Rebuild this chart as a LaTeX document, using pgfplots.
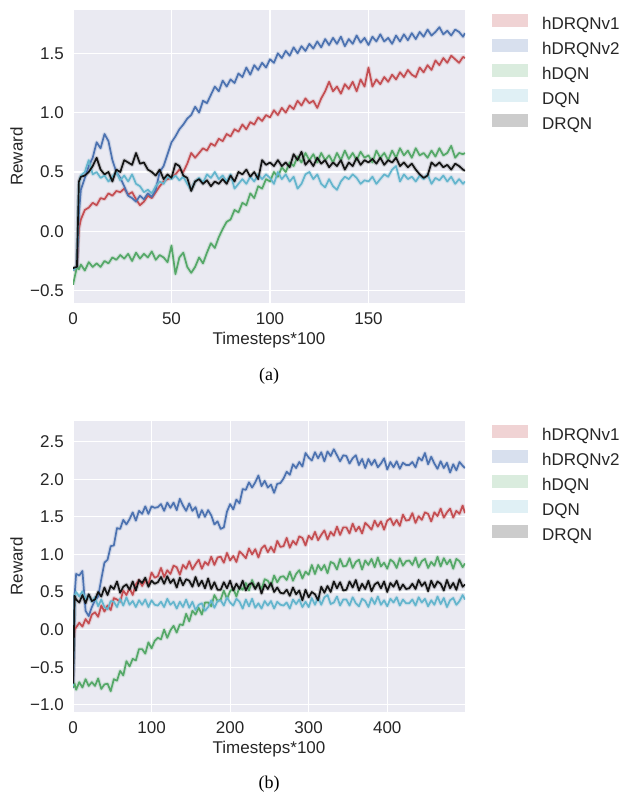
\documentclass[border=0pt]{standalone}
\usepackage{pgfplots}
\pgfplotsset{compat=1.18}
\usepackage{pgfplotstable}
\usepackage{fontspec}
\setmainfont{Liberation Sans}
\newfontfamily\capfont{Liberation Serif}
\definecolor{bgc}{HTML}{EAEAF2}
\definecolor{labc}{HTML}{262626}
\definecolor{cR}{HTML}{C44E52}
\definecolor{cB}{HTML}{4C72B0}
\definecolor{cG}{HTML}{55A868}
\definecolor{cC}{HTML}{64B5CD}
\definecolor{cK}{HTML}{141414}

\pgfplotstableread{
x a b c d e
0 -0.33 -0.32 -0.45 -0.33 -0.31
2 -0.30 -0.30 -0.30 -0.30 -0.30
3 0.02 0.15 -0.32 0.40 0.42
4 0.10 0.35 -0.28 0.47 0.46
6 0.18 0.45 -0.33 0.50 0.47
8 0.20 0.55 -0.26 0.60 0.50
10 0.24 0.62 -0.30 0.48 0.55
12 0.22 0.75 -0.27 0.50 0.62
14 0.28 0.70 -0.30 0.45 0.52
16 0.27 0.82 -0.25 0.47 0.48
18 0.32 0.76 -0.27 0.42 0.50
20 0.30 0.60 -0.22 0.46 0.42
22 0.34 0.50 -0.24 0.50 0.52
24 0.33 0.45 -0.20 0.43 0.50
26 0.36 0.38 -0.23 0.47 0.60
28 0.31 0.30 -0.19 0.42 0.58
30 0.33 0.28 -0.25 0.48 0.56
32 0.27 0.25 -0.18 0.40 0.66
34 0.22 0.30 -0.23 0.38 0.57
36 0.25 0.27 -0.19 0.33 0.58
38 0.30 0.32 -0.22 0.35 0.52
40 0.28 0.29 -0.17 0.32 0.50
42 0.33 0.35 -0.24 0.38 0.47
44 0.38 0.50 -0.20 0.42 0.52
46 0.42 0.55 -0.22 0.40 0.44
48 0.44 0.65 -0.26 0.46 0.48
50 0.45 0.75 -0.12 0.44 0.45
52 0.48 0.80 -0.36 0.47 0.57
54 0.52 0.86 -0.22 0.43 0.55
56 0.50 0.90 -0.18 0.46 0.47
58 0.57 0.95 -0.30 0.40 0.45
60 0.66 0.98 -0.35 0.35 0.34
62 0.62 1.05 -0.30 0.42 0.42
64 0.66 1.00 -0.22 0.45 0.44
66 0.70 1.10 -0.27 0.41 0.40
68 0.68 1.08 -0.18 0.48 0.43
70 0.74 1.15 -0.10 0.45 0.38
72 0.72 1.22 -0.14 0.50 0.42
74 0.78 1.18 -0.05 0.44 0.40
76 0.76 1.27 0.02 0.47 0.44
78 0.82 1.22 0.08 0.42 0.40
80 0.80 1.28 0.10 0.48 0.47
82 0.86 1.25 0.18 0.36 0.42
84 0.84 1.33 0.16 0.40 0.50
86 0.90 1.30 0.24 0.44 0.48
88 0.86 1.38 0.22 0.40 0.52
90 0.92 1.32 0.32 0.46 0.46
92 0.90 1.40 0.28 0.42 0.50
94 0.96 1.36 0.38 0.48 0.44
96 0.93 1.42 0.36 0.44 0.60
98 0.98 1.38 0.44 0.48 0.56
100 0.96 1.45 0.42 0.45 0.58
102 1.02 1.42 0.50 0.40 0.55
104 0.98 1.50 0.46 0.50 0.60
106 1.04 1.46 0.54 0.44 0.55
108 1.00 1.52 0.50 0.48 0.58
110 1.06 1.48 0.58 0.42 0.54
112 1.03 1.55 0.55 0.46 0.65
114 1.10 1.50 0.63 0.36 0.60
116 1.06 1.56 0.58 0.40 0.67
118 1.12 1.52 0.66 0.48 0.56
120 1.08 1.58 0.60 0.50 0.60
122 1.10 1.54 0.65 0.44 0.55
124 1.04 1.60 0.58 0.48 0.62
126 1.12 1.55 0.66 0.40 0.57
128 1.18 1.62 0.60 0.37 0.60
130 1.26 1.57 0.64 0.44 0.54
132 1.18 1.63 0.58 0.38 0.58
134 1.22 1.58 0.66 0.35 0.55
136 1.16 1.64 0.60 0.42 0.60
138 1.24 1.56 0.68 0.46 0.52
140 1.20 1.62 0.61 0.44 0.58
142 1.26 1.58 0.66 0.48 0.55
144 1.18 1.65 0.60 0.45 0.62
146 1.28 1.59 0.67 0.40 0.56
148 1.22 1.63 0.62 0.43 0.60
150 1.38 1.57 0.64 0.42 0.58
152 1.22 1.64 0.58 0.46 0.61
154 1.28 1.60 0.68 0.40 0.57
156 1.24 1.66 0.62 0.44 0.62
158 1.30 1.60 0.66 0.48 0.56
160 1.26 1.63 0.60 0.46 0.60
162 1.32 1.58 0.68 0.52 0.58
164 1.28 1.65 0.62 0.55 0.62
166 1.34 1.60 0.70 0.42 0.55
168 1.30 1.66 0.64 0.48 0.58
170 1.36 1.61 0.68 0.44 0.54
172 1.32 1.67 0.62 0.46 0.57
174 1.30 1.62 0.70 0.42 0.52
176 1.38 1.68 0.64 0.47 0.48
178 1.34 1.64 0.66 0.44 0.45
180 1.40 1.70 0.62 0.48 0.47
182 1.36 1.65 0.68 0.40 0.58
184 1.44 1.68 0.63 0.45 0.55
186 1.40 1.72 0.70 0.43 0.58
188 1.46 1.66 0.64 0.47 0.54
190 1.42 1.69 0.66 0.42 0.56
192 1.48 1.65 0.72 0.46 0.52
194 1.45 1.70 0.62 0.40 0.57
196 1.42 1.68 0.66 0.44 0.55
198 1.47 1.64 0.65 0.40 0.52
199 1.46 1.67 0.66 0.42 0.51
}\topdata

\pgfplotstableread{
x a b c d e
0 -0.75 -0.78 -0.75 -0.75 -0.72
1 -0.20 -0.30 -0.76 -0.20 -0.20
2 0.00 0.45 -0.72 0.45 0.45
4 0.03 0.74 -0.80 0.50 0.40
8 0.09 0.72 -0.70 0.44 0.36
12 0.04 0.78 -0.77 0.51 0.46
16 0.14 0.25 -0.66 0.40 0.35
20 0.08 0.18 -0.75 0.46 0.47
24 0.20 0.30 -0.70 0.37 0.38
28 0.23 0.39 -0.75 0.43 0.40
32 0.17 0.44 -0.65 0.31 0.50
36 0.32 0.67 -0.79 0.40 0.44
40 0.24 0.89 -0.73 0.30 0.56
44 0.32 0.93 -0.72 0.27 0.46
48 0.26 1.11 -0.82 0.38 0.58
52 0.42 1.12 -0.66 0.37 0.54
56 0.40 1.35 -0.68 0.30 0.64
60 0.37 1.34 -0.55 0.41 0.49
64 0.52 1.46 -0.61 0.32 0.57
68 0.46 1.40 -0.42 0.43 0.60
72 0.55 1.47 -0.49 0.33 0.53
76 0.46 1.56 -0.39 0.38 0.64
80 0.60 1.45 -0.41 0.30 0.52
84 0.66 1.58 -0.26 0.39 0.66
88 0.58 1.54 -0.26 0.33 0.62
92 0.66 1.64 -0.32 0.40 0.69
96 0.60 1.54 -0.17 0.30 0.57
100 0.76 1.64 -0.25 0.39 0.65
104 0.69 1.62 -0.15 0.33 0.61
108 0.71 1.63 -0.11 0.32 0.63
112 0.82 1.67 -0.13 0.37 0.70
116 0.70 1.58 0.00 0.30 0.61
120 0.79 1.69 -0.11 0.41 0.71
124 0.74 1.62 -0.01 0.33 0.62
128 0.85 1.69 0.05 0.37 0.67
132 0.83 1.59 -0.04 0.28 0.56
136 0.73 1.74 0.07 0.37 0.69
140 0.86 1.65 0.06 0.30 0.59
144 0.81 1.58 0.21 0.40 0.67
148 0.91 1.68 0.11 0.29 0.65
152 0.80 1.58 0.25 0.37 0.57
156 0.87 1.63 0.20 0.26 0.70
160 0.93 1.49 0.29 0.33 0.58
164 0.81 1.59 0.20 0.35 0.65
168 0.90 1.50 0.36 0.25 0.55
172 0.86 1.59 0.36 0.30 0.68
176 0.97 1.52 0.31 0.39 0.54
180 0.86 1.40 0.46 0.29 0.63
184 0.96 1.44 0.38 0.38 0.53
188 0.97 1.34 0.40 0.39 0.53
192 0.89 1.36 0.52 0.32 0.63
196 1.02 1.57 0.41 0.43 0.55
200 0.92 1.67 0.51 0.36 0.65
204 0.98 1.60 0.55 0.32 0.52
208 0.90 1.73 0.44 0.41 0.61
212 1.04 1.68 0.57 0.37 0.54
216 1.00 1.87 0.53 0.28 0.65
220 0.95 1.86 0.62 0.40 0.52
224 1.08 1.96 0.52 0.31 0.60
228 1.00 1.89 0.66 0.41 0.62
232 1.07 1.96 0.55 0.29 0.54
236 0.96 2.05 0.61 0.35 0.62
240 1.08 1.91 0.54 0.28 0.48
244 1.12 1.98 0.67 0.38 0.60
248 1.03 1.89 0.65 0.32 0.54
252 1.10 1.93 0.58 0.38 0.62
256 1.03 1.82 0.72 0.28 0.50
260 1.18 1.94 0.63 0.37 0.56
264 1.10 1.95 0.70 0.33 0.49
268 1.11 2.01 0.71 0.32 0.48
272 1.22 2.10 0.66 0.36 0.53
276 1.09 2.06 0.77 0.28 0.45
280 1.18 2.20 0.65 0.40 0.56
284 1.13 2.15 0.74 0.34 0.47
288 1.24 2.23 0.79 0.40 0.52
292 1.22 2.17 0.68 0.30 0.39
296 1.12 2.35 0.77 0.37 0.53
300 1.25 2.29 0.73 0.30 0.43
304 1.20 2.25 0.86 0.42 0.50
308 1.30 2.36 0.74 0.33 0.47
312 1.19 2.28 0.86 0.43 0.39
316 1.26 2.36 0.79 0.33 0.57
320 1.32 2.24 0.86 0.43 0.49
324 1.20 2.37 0.75 0.46 0.58
328 1.30 2.31 0.90 0.34 0.50
332 1.25 2.40 0.88 0.36 0.64
336 1.37 2.32 0.80 0.44 0.55
340 1.26 2.24 0.94 0.32 0.63
344 1.36 2.32 0.84 0.40 0.52
348 1.36 2.31 0.85 0.40 0.53
352 1.28 2.21 0.95 0.32 0.64
356 1.41 2.28 0.82 0.43 0.56
360 1.31 2.32 0.90 0.35 0.66
364 1.37 2.19 0.93 0.31 0.52
368 1.28 2.27 0.80 0.41 0.61
372 1.42 2.15 0.92 0.38 0.54
376 1.38 2.27 0.86 0.30 0.65
380 1.33 2.19 0.94 0.42 0.51
384 1.45 2.26 0.83 0.34 0.60
388 1.37 2.16 0.96 0.44 0.63
392 1.44 2.21 0.84 0.33 0.55
396 1.33 2.28 0.89 0.39 0.64
400 1.45 2.13 0.81 0.31 0.50
404 1.48 2.23 0.93 0.41 0.62
408 1.39 2.16 0.90 0.36 0.57
412 1.46 2.24 0.82 0.43 0.65
416 1.38 2.14 0.95 0.32 0.53
420 1.53 2.22 0.85 0.40 0.60
424 1.45 2.19 0.91 0.35 0.54
428 1.46 2.19 0.92 0.35 0.55
432 1.55 2.23 0.86 0.40 0.61
436 1.42 2.16 0.96 0.32 0.54
440 1.51 2.29 0.83 0.43 0.66
444 1.46 2.25 0.91 0.36 0.58
448 1.56 2.35 0.94 0.41 0.63
452 1.54 2.20 0.82 0.31 0.51
456 1.44 2.30 0.90 0.39 0.65
460 1.56 2.21 0.85 0.33 0.56
464 1.51 2.14 0.97 0.44 0.64
468 1.61 2.24 0.84 0.34 0.61
472 1.49 2.15 0.95 0.42 0.52
476 1.56 2.22 0.87 0.30 0.66
480 1.61 2.09 0.93 0.39 0.55
484 1.49 2.20 0.81 0.42 0.62
488 1.58 2.12 0.94 0.33 0.53
492 1.54 2.23 0.91 0.38 0.67
496 1.65 2.18 0.83 0.46 0.57
499 1.55 2.15 0.88 0.40 0.60
}\botdata

\pgfplotsset{
  sns/.style={
    scale only axis, width=392pt,
    axis background/.style={fill=bgc},
    axis line style={draw=none},
    tick style={draw=none},
    major tick length=0pt,
    grid=major,
    major grid style={white, line width=1.2pt},
    tick label style={font=\fontsize{17}{20}\selectfont, text=labc},
    xticklabel style={inner sep=0pt, anchor=north, yshift=-9pt},
    yticklabel style={inner sep=0pt, anchor=east, xshift=-9pt},
    label style={font=\fontsize{17}{20}\selectfont, text=labc},
    ylabel={Reward},
    xlabel={Timesteps*100},
    xlabel style={at={(axis description cs:0.5,0)}, anchor=north, inner sep=0pt, yshift=-28.5pt},
    ylabel style={at={(axis description cs:-0.1276,0.5)}, anchor=south, inner sep=0pt},
    clip=true,
    legend style={at={(1,1)}, anchor=north west, xshift=27pt, yshift=-4pt,
      draw=none, fill=none, font=\fontsize{17}{20}\selectfont, text=labc,
      row sep=4.5pt, inner sep=0pt,
      nodes={inner sep=2pt, text height=12pt, text depth=3pt},
      /tikz/every odd column/.append style={column sep=12pt}},
    legend cell align=left,
    band/.style={line width=4pt, opacity=0.18, line join=round, forget plot},
    ln/.style={line width=1.7pt, line join=round, forget plot},
  },
  patch/.style={legend image code/.code={\fill[##1, draw=none] (0pt,-2pt) rectangle (36pt,11pt);}},
}

\begin{document}
\begin{tikzpicture}
\useasboundingbox (0pt,0pt) rectangle (623pt,-797pt);
\begin{axis}[sns, at={(73pt,-303pt)}, anchor=south west, height=293pt,
  xmin=0, xmax=199, ymin=-0.604, ymax=1.865,
  xtick={0,50,100,150}, xticklabels={0,50,100,150},
  ytick={-0.5,0,0.5,1,1.5}, yticklabels={−0.5,0.0,0.5,1.0,1.5}]
\addplot[band, cR] table[y=a]{\topdata};
\addplot[band, cB] table[y=b]{\topdata};
\addplot[band, cG] table[y=c]{\topdata};
\addplot[band, cC] table[y=d]{\topdata};
\addplot[band, cK] table[y=e]{\topdata};
\addplot[ln, cR] table[y=a]{\topdata};
\addplot[ln, cB] table[y=b]{\topdata};
\addplot[ln, cG] table[y=c]{\topdata};
\addplot[ln, cC] table[y=d]{\topdata};
\addplot[ln, cK] table[y=e]{\topdata};
\addlegendimage{patch, fill=cR!25!white}\addlegendentry{hDRQNv1}
\addlegendimage{patch, fill=cB!22!white}\addlegendentry{hDRQNv2}
\addlegendimage{patch, fill=cG!22!white}\addlegendentry{hDQN}
\addlegendimage{patch, fill=cC!20!white}\addlegendentry{DQN}
\addlegendimage{patch, fill=black!20!white}\addlegendentry{DRQN}
\end{axis}
\node[font=\capfont\fontsize{18}{20}\selectfont] at (269pt,-376pt) {(a)};

\begin{axis}[sns, at={(73pt,-712pt)}, anchor=south west, height=291.3pt,
  xmin=0, xmax=499, ymin=-1.097, ymax=2.78,
  xtick={0,100,200,300,400}, xticklabels={0,100,200,300,400},
  ytick={-1,-0.5,0,0.5,1,1.5,2,2.5}, yticklabels={−1.0,−0.5,0.0,0.5,1.0,1.5,2.0,2.5}]
\addplot[band, cR] table[y=a]{\botdata};
\addplot[band, cB] table[y=b]{\botdata};
\addplot[band, cG] table[y=c]{\botdata};
\addplot[band, cC] table[y=d]{\botdata};
\addplot[band, cK] table[y=e]{\botdata};
\addplot[ln, cR] table[y=a]{\botdata};
\addplot[ln, cB] table[y=b]{\botdata};
\addplot[ln, cG] table[y=c]{\botdata};
\addplot[ln, cC] table[y=d]{\botdata};
\addplot[ln, cK] table[y=e]{\botdata};
\addlegendimage{patch, fill=cR!25!white}\addlegendentry{hDRQNv1}
\addlegendimage{patch, fill=cB!22!white}\addlegendentry{hDRQNv2}
\addlegendimage{patch, fill=cG!22!white}\addlegendentry{hDQN}
\addlegendimage{patch, fill=cC!20!white}\addlegendentry{DQN}
\addlegendimage{patch, fill=black!20!white}\addlegendentry{DRQN}
\end{axis}
\node[font=\capfont\fontsize{18}{20}\selectfont] at (269pt,-784pt) {(b)};
\end{tikzpicture}
\end{document}
